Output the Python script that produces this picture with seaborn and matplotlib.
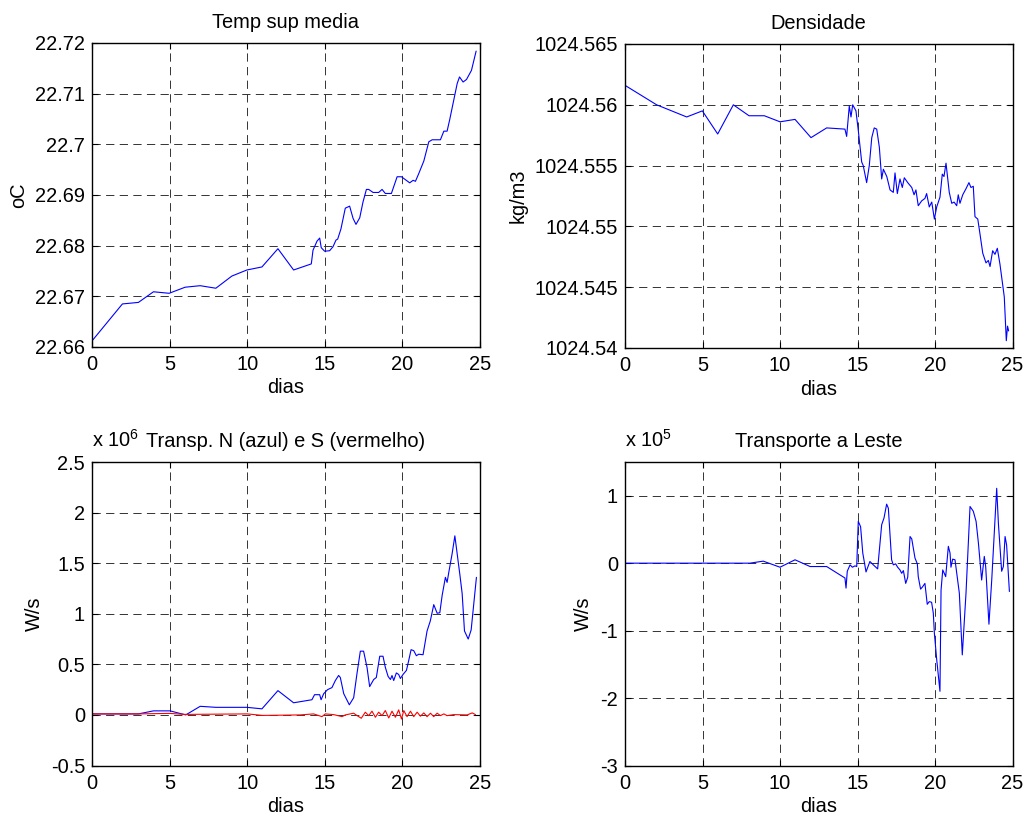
import numpy as np
import pandas as pd
import matplotlib
matplotlib.use("Agg")
import matplotlib.pyplot as plt
from matplotlib.ticker import FuncFormatter
import seaborn as sns

# ---- Temperatura superficial media (oC) ----
temp_t = [0.0, 1.96, 2.99, 3.96, 4.97, 6.0, 6.97, 7.98, 9.01, 9.98, 10.95, 11.98, 12.99,
          14.13, 14.24, 14.5, 14.67, 14.77, 14.99, 15.31, 15.53, 15.72, 15.83, 16.04, 16.32,
          16.6, 16.82, 17.01, 17.25, 17.46, 17.68, 17.83, 18.11, 18.47, 18.69, 18.9, 19.29,
          19.66, 19.94, 20.47, 20.69, 20.84, 21.05, 21.38, 21.7, 21.92, 22.45, 22.67, 22.88,
          23.05, 23.53, 23.68, 23.91, 24.13, 24.45, 24.75]
temp_v = [22.6612, 22.6685, 22.6688, 22.6709, 22.6706, 22.6718, 22.6721, 22.6716, 22.6740,
          22.6752, 22.6758, 22.6794, 22.6752, 22.6764, 22.6791, 22.6809, 22.6815, 22.6796,
          22.6789, 22.6790, 22.6798, 22.6811, 22.6813, 22.6833, 22.6874, 22.6878, 22.6854,
          22.6842, 22.6855, 22.6886, 22.6911, 22.6911, 22.6905, 22.6905, 22.6911, 22.6903,
          22.6903, 22.6936, 22.6936, 22.6924, 22.6929, 22.6927, 22.6942, 22.6967, 22.7005,
          22.7009, 22.7009, 22.7026, 22.7026, 22.7049, 22.7120, 22.7133, 22.7123, 22.7128,
          22.7146, 22.7184]

# ---- Densidade (kg/m3) ----
dens_t = [0.0, 2.04, 3.98, 4.99, 5.98, 6.99, 8.0, 8.99, 10.0, 10.97, 12.0, 13.01, 14.19,
          14.3, 14.47, 14.58, 14.69, 14.9, 15.05, 15.27, 15.37, 15.59, 15.76, 15.92, 16.08,
          16.24, 16.41, 16.56, 16.67, 16.89, 17.1, 17.31, 17.42, 17.57, 17.74, 17.89, 18.02,
          18.24, 18.5, 18.65, 18.77, 18.92, 19.14, 19.35, 19.46, 19.63, 19.79, 19.96, 20.11,
          20.32, 20.47, 20.58, 20.71, 20.92, 21.08, 21.23, 21.4, 21.5, 21.61, 21.79, 22.0,
          22.19, 22.32, 22.47, 22.58, 22.76, 22.9, 23.08, 23.29, 23.44, 23.55, 23.72, 23.87,
          24.02, 24.19, 24.47, 24.6, 24.68, 24.75]
dens_v = [1024.5616, 1024.5600, 1024.5590, 1024.5595, 1024.5576, 1024.5600, 1024.5591,
          1024.5591, 1024.5586, 1024.5588, 1024.5573, 1024.5581, 1024.5580, 1024.5574,
          1024.5599, 1024.5590, 1024.5600, 1024.5595, 1024.5579, 1024.5553, 1024.5550,
          1024.5536, 1024.5550, 1024.5573, 1024.5581, 1024.5580, 1024.5565, 1024.5539,
          1024.5547, 1024.5541, 1024.5530, 1024.5528, 1024.5544, 1024.5527, 1024.5539,
          1024.5532, 1024.5540, 1024.5536, 1024.5532, 1024.5526, 1024.5530, 1024.5517,
          1024.5521, 1024.5523, 1024.5527, 1024.5516, 1024.5520, 1024.5506, 1024.5516,
          1024.5524, 1024.5543, 1024.5541, 1024.5552, 1024.5528, 1024.5519, 1024.5520,
          1024.5517, 1024.5526, 1024.5519, 1024.5526, 1024.5531, 1024.5536, 1024.5532,
          1024.5533, 1024.5508, 1024.5506, 1024.5494, 1024.5478, 1024.5470, 1024.5472,
          1024.5467, 1024.5480, 1024.5477, 1024.5482, 1024.5469, 1024.5442, 1024.5406,
          1024.5418, 1024.5414]

# ---- Transporte Norte (azul), x 10^6 W/s ----
north_t = [0.0, 2.99, 3.96, 5.03, 6.04, 6.97, 7.98, 9.98, 10.95, 11.98, 12.99, 14.17, 14.34,
           14.67, 14.76, 14.93, 15.18, 15.46, 15.68, 15.89, 16.0, 16.22, 16.58, 16.86, 17.07,
           17.29, 17.5, 17.72, 17.89, 18.15, 18.32, 18.54, 18.75, 18.9, 19.08, 19.23, 19.33,
           19.44, 19.61, 19.76, 19.87, 20.04, 20.26, 20.41, 20.56, 20.73, 20.9, 21.05, 21.33,
           21.59, 21.8, 22.02, 22.24, 22.41, 22.56, 22.77, 22.88, 22.99, 23.2, 23.38, 23.7,
           23.85, 24.0, 24.24, 24.43, 24.77]
north_v = [0.01, 0.01, 0.04, 0.04, 0.0, 0.085, 0.075, 0.075, 0.06, 0.24, 0.12, 0.15, 0.20,
           0.20, 0.15, 0.21, 0.25, 0.27, 0.34, 0.39, 0.37, 0.21, 0.10, 0.17, 0.405, 0.63,
           0.63, 0.47, 0.28, 0.35, 0.37, 0.58, 0.58, 0.47, 0.38, 0.35, 0.39, 0.34, 0.415,
           0.40, 0.36, 0.40, 0.44, 0.54, 0.645, 0.635, 0.585, 0.60, 0.595, 0.83, 0.93, 1.09,
           1.005, 1.01, 1.18, 1.36, 1.31, 1.41, 1.59, 1.77, 1.39, 1.20, 0.83, 0.75, 0.84,
           1.36]

# ---- Transporte Sul (vermelho), x 10^6 W/s ----
south_t = [0.0, 3.0, 5.0, 6.0, 10.0, 11.0, 13.42, 14.28, 14.82, 15.03, 15.57, 16.11, 16.32,
           16.86, 17.08, 17.35, 17.61, 17.83, 18.04, 18.26, 18.47, 18.69, 18.90, 19.12,
           19.33, 19.55, 19.76, 19.94, 20.09, 20.30, 20.52, 20.73, 20.95, 21.16, 21.38,
           21.59, 21.81, 22.02, 22.24, 22.45, 22.67, 22.88, 23.31, 24.17, 24.50, 24.71]
south_v = [0.01, 0.01, 0.015, 0.005, 0.01, -0.005, 0.0, 0.01, -0.017, 0.01, 0.003, -0.017,
           0.0, 0.017, -0.007, -0.033, 0.027, -0.007, 0.037, -0.023, 0.027, -0.007, 0.043,
           -0.03, 0.037, -0.023, 0.05, -0.04, 0.043, -0.017, 0.037, -0.017, 0.027, -0.013,
           0.02, -0.017, 0.017, -0.017, 0.017, -0.007, 0.01, -0.007, 0.003, 0.0, 0.02, 0.003]

# ---- Transporte a Leste, x 10^5 W/s ----
east_t = [0.0, 8.06, 8.92, 10.0, 10.97, 11.94, 13.01, 14.19, 14.26, 14.34, 14.52, 14.67,
          14.84, 14.95, 15.05, 15.2, 15.34, 15.55, 15.8, 16.02, 16.3, 16.56, 16.71, 16.88,
          16.99, 17.2, 17.31, 17.46, 17.59, 17.74, 17.85, 17.96, 18.11, 18.24, 18.39, 18.5,
          18.71, 18.86, 18.92, 19.07, 19.2, 19.35, 19.5, 19.63, 19.78, 19.89, 19.96, 20.11,
          20.32, 20.39, 20.5, 20.69, 20.86, 20.97, 21.03, 21.14, 21.29, 21.57, 21.76, 22.0,
          22.26, 22.47, 22.65, 22.8, 23.01, 23.18, 23.27, 23.48, 23.66, 23.98, 24.09, 24.3,
          24.41, 24.52, 24.62, 24.8]
east_v = [0.0, 0.0, 0.03, -0.06, 0.05, -0.05, -0.05, -0.22, -0.37, -0.12, -0.025, -0.06,
          -0.04, -0.05, 0.62, 0.54, 0.15, -0.13, 0.025, -0.025, -0.085, 0.57, 0.67, 0.875,
          0.815, 0.05, -0.025, -0.01, -0.06, -0.1, -0.15, -0.11, -0.3, -0.21, 0.395, 0.36,
          0.075, -0.01, -0.2, -0.385, -0.35, -0.3, -0.61, -0.57, -0.58, -0.74, -1.04, -1.43,
          -1.90, -0.40, -0.1, -0.2, 0.25, 0.15, -0.06, 0.06, 0.05, -0.445, -1.36, -0.445,
          0.84, 0.77, 0.62, 0.3, -0.25, 0.1, -0.05, -0.905, -0.25, 1.11, 0.59, -0.12, -0.05,
          0.395, 0.27, -0.42]

x_ticks = [0, 5, 10, 15, 20, 25]
temp_ticks = [22.66, 22.67, 22.68, 22.69, 22.70, 22.71, 22.72]
dens_ticks = [1024.54, 1024.545, 1024.55, 1024.555, 1024.56, 1024.565]
north_ticks = [-0.5, 0, 0.5, 1, 1.5, 2, 2.5]
east_ticks = [-3, -2, -1, 0, 1]

sns.set_style("white")
plt.rcParams["font.family"] = ["Liberation Sans", "DejaVu Sans"]
plt.rcParams["text.color"] = "black"
plt.rcParams["axes.labelcolor"] = "black"
plt.rcParams["xtick.color"] = "black"
plt.rcParams["ytick.color"] = "black"
plt.rcParams["mathtext.fontset"] = "custom"
plt.rcParams["mathtext.rm"] = "Liberation Sans"
plt.rcParams["mathtext.it"] = "Liberation Sans:italic"
plt.rcParams["mathtext.bf"] = "Liberation Sans:bold"

FS = 14.4
TITLE_PAD = 11
W, H = 1026, 818
fig = plt.figure(figsize=(W / 100, H / 100), dpi=100, facecolor="white")


def make_axes(left, top, right, bottom):
    return fig.add_axes([left / W, 1 - bottom / H, (right - left) / W, (bottom - top) / H])


ax_tl = make_axes(92, 43, 480, 347)
ax_tr = make_axes(625, 44, 1012.5, 348)
ax_bl = make_axes(92, 462, 480, 765.5)
ax_br = make_axes(625, 462, 1012.5, 765.5)

fmt = FuncFormatter(lambda v, p: "{:.10g}".format(round(v, 6)))


def style(ax, yticks, ylim, ylabel, title):
    ax.set_xlim(0, 25)
    ax.set_ylim(*ylim)
    ax.set_xticks(x_ticks)
    ax.set_yticks(yticks)
    ax.yaxis.set_major_formatter(fmt)
    ax.xaxis.set_major_formatter(fmt)
    ax.grid(True, color="0.2", linestyle=(0, (8.5, 5.5)), linewidth=0.7)
    ax.set_axisbelow(True)
    for s in ax.spines.values():
        s.set_visible(True)
        s.set_color("black")
        s.set_linewidth(1.0)
    ax.tick_params(direction="in", length=4, width=0.8, top=True, right=True,
                   bottom=True, left=True, labelsize=FS, colors="black")
    ax.tick_params(axis="x", pad=6)
    ax.tick_params(axis="y", pad=5)
    ax.set_xlabel("dias", fontsize=FS, labelpad=3, color="black")
    ax.set_ylabel(ylabel, fontsize=FS, labelpad=5, color="black")
    ax.set_title(title, fontsize=FS, pad=TITLE_PAD, color="black")


def exponent(ax, power):
    # scale factor shown at the upper-left corner, sharing the title baseline
    ax.annotate(r"x 10$^{%d}$" % power, xy=(0, 1), xycoords="axes fraction",
                xytext=(0, TITLE_PAD), textcoords="offset points",
                fontsize=FS, ha="left", va="baseline", color="black")


sns.lineplot(x=temp_t, y=temp_v, ax=ax_tl, color="blue", linewidth=0.8, sort=False, estimator=None)
style(ax_tl, temp_ticks, (22.66, 22.72), "oC", "Temp sup media")

sns.lineplot(x=dens_t, y=dens_v, ax=ax_tr, color="blue", linewidth=0.8, sort=False, estimator=None)
style(ax_tr, dens_ticks, (1024.54, 1024.565), "kg/m3", "Densidade")

sns.lineplot(x=north_t, y=north_v, ax=ax_bl, color="blue", linewidth=0.8, sort=False, estimator=None)
sns.lineplot(x=south_t, y=south_v, ax=ax_bl, color="red", linewidth=0.8, sort=False, estimator=None)
style(ax_bl, north_ticks, (-0.5, 2.5), "W/s", "Transp. N (azul) e S (vermelho)")
exponent(ax_bl, 6)

sns.lineplot(x=east_t, y=east_v, ax=ax_br, color="blue", linewidth=0.8, sort=False, estimator=None)
style(ax_br, east_ticks, (-3, 1.5), "W/s", "Transporte a Leste")
exponent(ax_br, 5)

fig.savefig("out.png", dpi=100, facecolor="white")
